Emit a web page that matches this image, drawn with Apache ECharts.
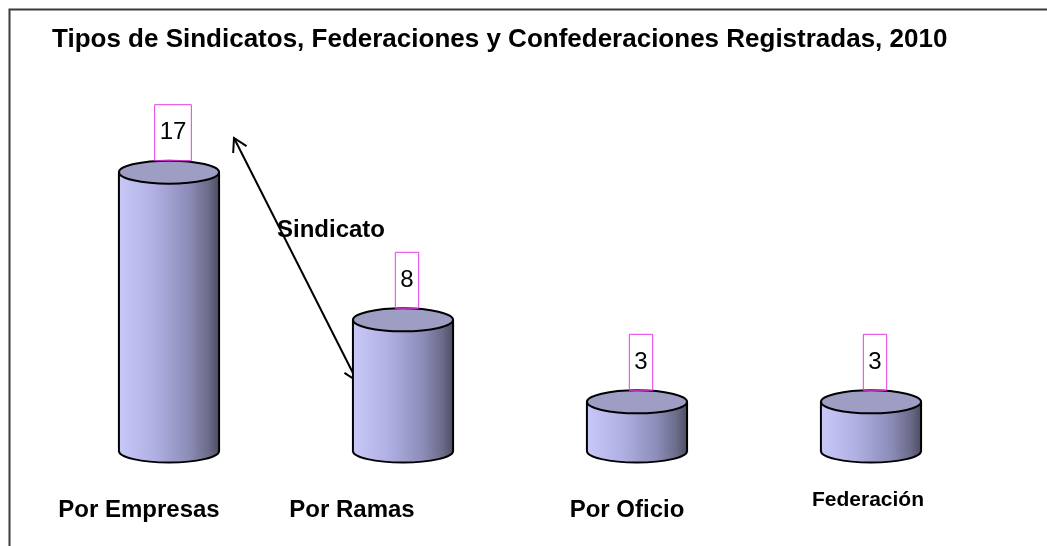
<!DOCTYPE html>
<html>
<head>
<meta charset="utf-8">
<script src="https://cdn.jsdelivr.net/npm/echarts@6/dist/echarts.min.js"></script>
<style>
  html, body { margin: 0; padding: 0; background: #fff; }
  #main { width: 1047px; height: 546px; }
</style>
</head>
<body>
<div id="main"></div>
<script>
// data
const categories = ['Por Empresas', 'Por Ramas', 'Por Oficio', 'Federación'];
const values = [17, 8, 3, 3];
const titleText = 'Tipos de Sindicatos, Federaciones y Confederaciones Registradas, 2010';
const noteText = 'Sindicato';

// label nudges (pixels), the originals are not centred under the bars
const labelShift = [60, 102, 20, 6];
const labelSize = [24, 24, 24, 21];
const labelTopPad = [20, 20, 20, 3];

const FONT = "'Liberation Sans', Arial, sans-serif";

const chart = echarts.init(document.getElementById('main'));

function renderCylinder(params, api) {
    const idx = api.value(0);
    const v = api.value(1);
    const top = api.coord([idx, v]);
    const base = api.coord([idx, 0]);
    const rx = api.size([1, 0])[0] * 0.214;
    const ry = 11.5;
    const cx = top[0];
    const body = new echarts.graphic.LinearGradient(0, 0, 1, 0, [
        { offset: 0, color: '#c8c8f8' },
        { offset: 0.35, color: '#b0b0e4' },
        { offset: 0.7, color: '#8c8cb8' },
        { offset: 0.9, color: '#6a6a88' },
        { offset: 1, color: '#4c4c62' }
    ]);
    return {
        type: 'group',
        children: [
            { type: 'ellipse', shape: { cx: cx, cy: base[1], rx: rx, ry: ry },
              style: { fill: body, stroke: '#000', lineWidth: 2 } },
            { type: 'rect', shape: { x: cx - rx, y: top[1], width: rx * 2, height: base[1] - top[1] },
              style: { fill: body } },
            { type: 'line', shape: { x1: cx - rx, y1: top[1], x2: cx - rx, y2: base[1] },
              style: { stroke: '#000', lineWidth: 2 } },
            { type: 'line', shape: { x1: cx + rx, y1: top[1], x2: cx + rx, y2: base[1] },
              style: { stroke: '#000', lineWidth: 2 } },
            { type: 'ellipse', shape: { cx: cx, cy: top[1], rx: rx, ry: ry },
              style: { fill: '#9e9ec4', stroke: '#000', lineWidth: 2 } },
            { type: 'text', x: cx + 4, y: top[1] - ry,
              style: {
                  text: String(v),
                  align: 'center', verticalAlign: 'bottom',
                  fontFamily: FONT, fontSize: 24, lineHeight: 24,
                  fill: '#000',
                  padding: [16, 5, 16, 5],
                  borderColor: '#e83ae8', borderWidth: 1
              } }
        ]
    };
}

// arrow between the two first bars
function arrowHead(tip, from, len) {
    const a = Math.atan2(from[1] - tip[1], from[0] - tip[0]);
    const w = Math.PI / 6;
    return [
        [tip[0] + len * Math.cos(a - w), tip[1] + len * Math.sin(a - w)],
        tip,
        [tip[0] + len * Math.cos(a + w), tip[1] + len * Math.sin(a + w)]
    ];
}
const pA = [234, 138];
const pB = [357, 381];

const rich = {};
categories.forEach(function (c, i) {
    rich['c' + i] = {
        fontFamily: FONT, fontWeight: 'bold', fontSize: labelSize[i],
        lineHeight: labelSize[i] + 2, color: '#000',
        padding: [labelTopPad[i], labelShift[i], 0, 0]
    };
});

const option = {
    animation: false,
    backgroundColor: '#fff',
    title: {
        text: titleText,
        left: 47,
        top: 22,
        textStyle: { fontFamily: FONT, fontWeight: 'bold', fontSize: 26, color: '#000' }
    },
    grid: { left: 52, right: 59, top: 123, bottom: 95 },
    xAxis: {
        type: 'category',
        data: categories,
        axisLine: { show: false },
        axisTick: { show: false },
        axisLabel: {
            interval: 0,
            margin: 36,
            formatter: function (v, i) { return '{c' + i + '|' + v + '}'; },
            rich: rich
        }
    },
    yAxis: { type: 'value', min: 0, max: 20, show: false },
    series: [{
        type: 'custom',
        renderItem: renderCylinder,
        encode: { x: 0, y: 1 },
        data: values.map(function (v, i) { return [i, v]; })
    }],
    graphic: [
        { type: 'rect', left: 7, top: 7, shape: { width: 1200, height: 700 },
          style: { fill: 'none', stroke: '#3a3a3a', lineWidth: 2 }, silent: true },
        { type: 'line', shape: { x1: pA[0], y1: pA[1], x2: pB[0], y2: pB[1] },
          style: { stroke: '#000', lineWidth: 2 } },
        { type: 'polyline', shape: { points: arrowHead(pA, pB, 15) },
          style: { stroke: '#000', lineWidth: 2, fill: 'none' } },
        { type: 'polyline', shape: { points: arrowHead(pB, pA, 15) },
          style: { stroke: '#000', lineWidth: 2, fill: 'none' } },
        { type: 'text', left: 277, top: 218,
          style: { text: noteText, fontFamily: FONT, fontWeight: 'bold', fontSize: 24, fill: '#000' } }
    ]
};

chart.setOption(option);
</script>
</body>
</html>
